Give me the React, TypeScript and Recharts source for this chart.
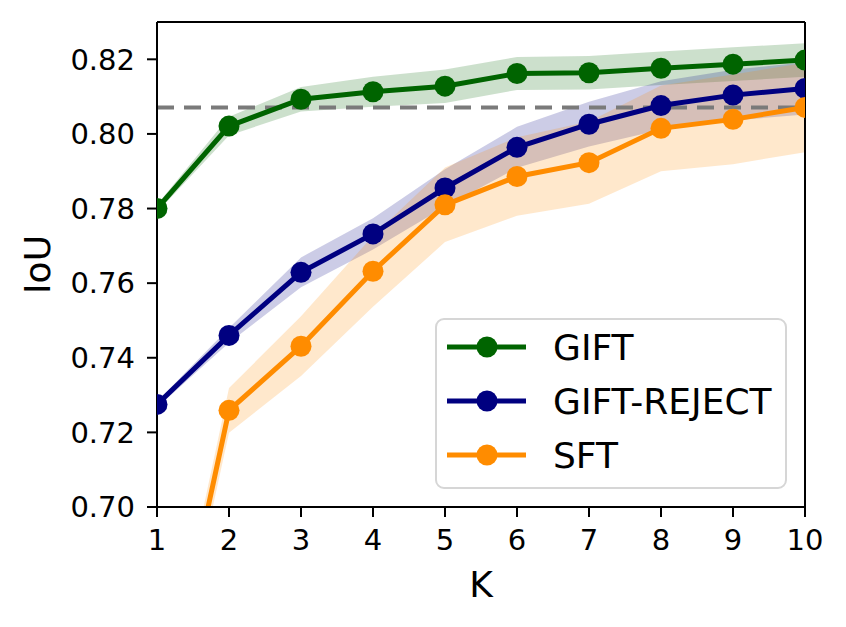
import React from 'react';
import { ComposedChart, Line, Area, XAxis, YAxis, ReferenceLine } from 'recharts';

// values
const kValues = [1, 2, 3, 4, 5, 6, 7, 8, 9, 10];
const giftMean = [0.7800, 0.8021, 0.8093, 0.8113, 0.8128, 0.8162, 0.8164, 0.8176, 0.8187, 0.8198];
const giftStd = [0.001, 0.0025, 0.0033, 0.004, 0.0045, 0.0044, 0.0045, 0.0045, 0.0045, 0.0045];
const rejectMean = [0.7275, 0.7460, 0.7629, 0.7732, 0.7855, 0.7964, 0.8026, 0.8076, 0.8104, 0.8122];
const rejectStd = [0.0008, 0.002, 0.004, 0.0042, 0.005, 0.0055, 0.006, 0.0065, 0.0068, 0.007];
const sftMean = [0.6366, 0.7259, 0.7431, 0.7632, 0.7810, 0.7886, 0.7923, 0.8015, 0.8039, 0.8071];
const sftStd = [0.005, 0.006, 0.008, 0.0095, 0.010, 0.0105, 0.011, 0.0115, 0.012, 0.012];
const baselineIoU = 0.8071;
const yTicks = [0.70, 0.72, 0.74, 0.76, 0.78, 0.80, 0.82];

const seriesNames = ['GIFT', 'GIFT-REJECT', 'SFT'];
const seriesColors = ['#006400', '#000080', '#ff8c00'];

const data = kValues.map((k, i) => ({
    k,
    gift: giftMean[i],
    giftBand: [giftMean[i] - giftStd[i], giftMean[i] + giftStd[i]],
    reject: rejectMean[i],
    rejectBand: [rejectMean[i] - rejectStd[i], rejectMean[i] + rejectStd[i]],
    sft: sftMean[i],
    sftBand: [sftMean[i] - sftStd[i], sftMean[i] + sftStd[i]],
}));

const FONT = '"DejaVu Sans", sans-serif';
const LINE_W = 5;
const DOT_R = 10.5;
const TICK_FS = 29;
const LABEL_FS = 36;

function LegendBox() {
    return (
        <svg width={352} height={171} style={{ position: 'absolute', left: 435, top: 318 }}>
            <rect x={1} y={1} width={350} height={169} rx={8} ry={8} fill="#fff" fillOpacity={0.8} stroke="#d6d6d6" strokeWidth={2} />
            {seriesNames.map((name, i) => {
                const cy = 29 + i * 54;
                return (
                    <g key={name}>
                        <line x1={12} x2={91} y1={cy} y2={cy} stroke={seriesColors[i]} strokeWidth={LINE_W} />
                        <circle cx={52} cy={cy} r={DOT_R} fill={seriesColors[i]} />
                        <text x={118} y={cy} dy="0.355em" fontSize={LABEL_FS} fontFamily={FONT} fill="#000">{name}</text>
                    </g>
                );
            })}
        </svg>
    );
}

export default function App() {
    const dotStyle = (c: string) => ({ r: DOT_R, fill: c, stroke: c, strokeWidth: 0 });

    return (
        <div style={{ position: 'absolute', left: 0, top: 0, width: 846, height: 627, background: '#fff' }}>
            <ComposedChart width={846} height={627} data={data} margin={{ top: 22, right: 41, left: 70, bottom: 50 }}>
                <XAxis
                    dataKey="k"
                    type="number"
                    domain={[1, 10]}
                    ticks={kValues}
                    allowDataOverflow
                    height={70}
                    tickSize={10}
                    tickMargin={12}
                    axisLine={{ stroke: '#000', strokeWidth: 2 }}
                    tickLine={{ stroke: '#000', strokeWidth: 2 }}
                    tick={{ fontSize: TICK_FS, fill: '#000', fontFamily: FONT }}
                    label={{
                        content: (props: any) => {
                            const vb = props.viewBox;
                            return (
                                <text x={vb.x + vb.width / 2} y={vb.y + 90} textAnchor="middle" fontSize={LABEL_FS} fontFamily={FONT} fill="#000">K</text>
                            );
                        },
                    }}
                />
                <YAxis
                    type="number"
                    domain={[0.70, 0.83]}
                    ticks={yTicks}
                    allowDataOverflow
                    width={87}
                    tickSize={10}
                    tickMargin={12}
                    tickFormatter={(v: number) => v.toFixed(2)}
                    axisLine={{ stroke: '#000', strokeWidth: 2 }}
                    tickLine={{ stroke: '#000', strokeWidth: 2 }}
                    tick={{ fontSize: TICK_FS, fill: '#000', fontFamily: FONT }}
                    label={{
                        content: (props: any) => {
                            const vb = props.viewBox;
                            const cx = vb.x - 20;
                            const cy = vb.y + vb.height / 2;
                            return (
                                <text x={cx} y={cy} textAnchor="middle" fontSize={LABEL_FS} fontFamily={FONT} fill="#000" transform={`rotate(-90 ${cx} ${cy})`}>IoU</text>
                            );
                        },
                    }}
                />
                <ReferenceLine y={0.83} stroke="#000" strokeWidth={2} />
                <ReferenceLine x={10} stroke="#000" strokeWidth={2} />
                <ReferenceLine y={baselineIoU} stroke="#7a7a7a" strokeWidth={4} strokeDasharray="17 10" />

                <Area type="linear" dataKey="giftBand" stroke="none" fill={seriesColors[0]} fillOpacity={0.2} legendType="none" isAnimationActive={false} activeDot={false} />
                <Line type="linear" dataKey="gift" name="GIFT" stroke={seriesColors[0]} strokeWidth={LINE_W} dot={dotStyle(seriesColors[0])} activeDot={false} isAnimationActive={false} />

                <Area type="linear" dataKey="rejectBand" stroke="none" fill={seriesColors[1]} fillOpacity={0.2} legendType="none" isAnimationActive={false} activeDot={false} />
                <Line type="linear" dataKey="reject" name="GIFT-REJECT" stroke={seriesColors[1]} strokeWidth={LINE_W} dot={dotStyle(seriesColors[1])} activeDot={false} isAnimationActive={false} />

                <Area type="linear" dataKey="sftBand" stroke="none" fill={seriesColors[2]} fillOpacity={0.2} legendType="none" isAnimationActive={false} activeDot={false} />
                <Line type="linear" dataKey="sft" name="SFT" stroke={seriesColors[2]} strokeWidth={LINE_W} dot={dotStyle(seriesColors[2])} activeDot={false} isAnimationActive={false} />
            </ComposedChart>
            <LegendBox />
        </div>
    );
}
